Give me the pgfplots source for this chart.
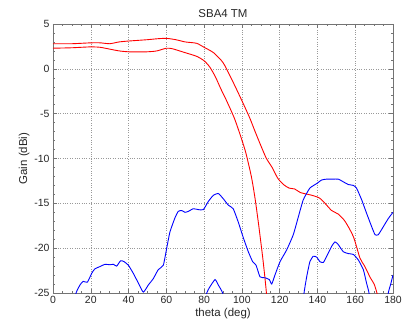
\documentclass[border=0pt]{standalone}
\usepackage{pgfplots}
\pgfplotsset{compat=1.18}
\usepackage{fontspec}
\setmainfont{Liberation Sans}
\definecolor{txt}{gray}{0.15}
\definecolor{gridc}{gray}{0.6}
\definecolor{axc}{gray}{0.45}
\begin{document}
\begin{tikzpicture}
\fontsize{10}{12}\selectfont
\begin{axis}[
  name=ax,
  scale only axis,
  width=340bp, height=269bp,
  xmin=0, xmax=180, ymin=-25, ymax=5,
  xtick={0,20,...,180}, ytick={-25,-20,...,5},
  minor x tick num=3, minor y tick num=4,
  tick align=inside, tick pos=both,
  major tick length=4bp, minor tick length=2.5bp,
  grid=major,
  major grid style={gridc, dotted, line width=0.5pt},
  axis line style={axc, line width=0.6pt},
  every tick/.style={axc, line width=0.5pt},
  tick label style={font=\fontsize{10.5}{12}\selectfont, text=txt},
  /pgf/number format/assume math mode=true,
  title={SBA4 TM},
  title style={font=\fontsize{11.5}{13}\selectfont, text=txt, yshift=-3bp},
  xlabel={theta (deg)},
  ylabel={Gain (dBi)},
  label style={font=\fontsize{11.5}{13}\selectfont, text=txt},
  xlabel style={yshift=3bp},
  ylabel style={yshift=-2bp},
  clip=true,
]
% upper red
\addplot[red, line width=0.9pt, smooth, tension=0.4] coordinates {
(0,2.8)(10,2.8)(20,2.9)(25,2.9)(30,2.8)(35,3.0)(40,3.1)(50,3.25)(55,3.35)(60,3.4)(65,3.25)(70,3.0)(76,2.85)(80,2.4)(85,1.8)(90,0.7)(94,-0.9)(99,-3.1)(104,-5.4)(107,-7.0)(110.5,-8.8)(113,-10)(116,-11)(119,-12.2)(122,-12.9)(125,-13.3)(128,-13.4)(131,-13.8)(137,-14.1)(141,-14.4)(144,-15)(147.5,-15.8)(151,-16.2)(154.6,-17)(159,-18.7)(162.5,-21.1)(165,-22)(168,-23.3)(170,-24)(171.5,-25)(174,-27)
};
% lower red
\addplot[red, line width=0.9pt, smooth, tension=0.4] coordinates {
(0,2.3)(10,2.35)(20,2.45)(25,2.4)(30,2.2)(35,2.0)(40,1.9)(50,1.9)(55,2.0)(60,2.3)(63,2.25)(67,2.0)(70,1.8)(76,1.4)(80,0.9)(83,0.2)(86,-0.9)(89,-2.3)(92,-3.6)(96,-5.5)(99,-7.3)(102,-9.3)(105,-12)(107,-14.5)(109,-17.6)(111,-21)(112.3,-23.5)(113,-25)(114,-27)
};
% upper blue
\addplot[blue, line width=0.9pt, smooth, tension=0.3] coordinates {
(11,-26.5)(12.2,-25)(14.3,-24.1)(16,-23.7)(18.2,-23.8)(20.5,-22.8)(22.2,-22.3)(24.9,-22.05)(27.5,-21.8)(30.2,-21.85)(32,-21.8)(33.7,-22.0)(35.8,-21.4)(37.6,-21.5)(39.9,-21.9)(42.5,-22.8)(45.2,-23.9)(47.8,-24.9)(50.5,-24.1)(53.1,-23.4)(55.7,-22.4)(58.4,-21.9)(60.2,-20.0)(61.9,-18.2)(64.6,-16.6)(66.3,-15.9)(68.1,-15.8)(69.9,-16.0)(71.6,-15.9)(74.3,-15.6)(76.9,-15.7)(79.6,-15.7)(82.2,-14.8)(84.9,-14.1)(87.5,-13.9)(90.2,-14.5)(92.8,-15.2)(95.4,-15.6)(98.1,-17.1)(100.7,-18.8)(103.4,-20.4)(105.7,-21.5)(107.5,-21.9)(109.6,-23.2)(112.2,-23.3)(114.5,-23.5)(115.8,-24.0)(117.5,-23.0)(120.2,-21.5)(123.7,-20.2)(127.2,-18.5)(129.9,-16.5)(132.5,-14.6)(136,-13.3)(139.6,-12.8)(142.2,-12.4)(144.9,-12.3)(148.4,-12.3)(151,-12.3)(153.7,-12.6)(156.3,-12.9)(159,-13.0)(160.7,-13.3)(163.4,-14.6)(166,-16.1)(168.7,-17.6)(170.5,-18.5)(172.2,-18.5)(174.9,-17.6)(177.5,-16.7)(180,-16.0)
};
% lower blue
\addplot[blue, line width=0.9pt, smooth, tension=0.3] coordinates {
(79.5,-27)(81.4,-25)(83.1,-24.3)(85.8,-23.5)(87.5,-24.1)(89.8,-25)(91.5,-27)
};
\addplot[blue, line width=0.9pt, smooth, tension=0.3] coordinates {
(132,-27)(132.9,-25)(134.3,-23.2)(136,-21.5)(137.8,-20.9)(139.6,-21.0)(141.3,-21.5)(143.1,-21.6)(144.9,-20.9)(147.5,-19.8)(149.3,-19.3)(151,-19.6)(153.7,-20.4)(156.3,-20.6)(159,-20.7)(161.6,-21.3)(164.3,-22.4)(166,-23.9)(167.3,-25)(168,-27)
};
\addplot[blue, line width=0.9pt, smooth, tension=0.3] coordinates {
(176.5,-27)(177.5,-25)(178.8,-24.0)(180,-23.0)
};
\end{axis}
\pgfresetboundingbox
\path ([xshift=-53bp,yshift=-33bp]ax.south west) rectangle ([xshift=20bp,yshift=24bp]ax.north east);
\end{tikzpicture}
\end{document}
